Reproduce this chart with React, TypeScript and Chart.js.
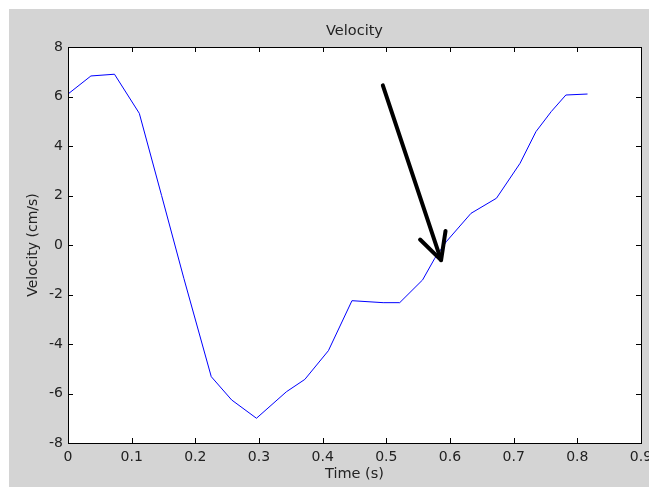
import React, { useEffect, useRef } from "react";
import { Chart, registerables } from "chart.js";

Chart.register(...registerables);

const timeS = [0, 0.036, 0.073, 0.112, 0.147, 0.182, 0.225, 0.257, 0.296, 0.343, 0.372, 0.409, 0.446, 0.495, 0.521, 0.557, 0.576, 0.594, 0.633, 0.673, 0.71, 0.735, 0.759, 0.782, 0.816];
const velocity = [6.1, 6.83, 6.9, 5.32, 2.0, -1.35, -5.32, -6.26, -7.0, -5.93, -5.43, -4.27, -2.25, -2.33, -2.33, -1.41, -0.54, 0.13, 1.28, 1.89, 3.3, 4.58, 5.39, 6.06, 6.1];

const xTicks = [0, 0.1, 0.2, 0.3, 0.4, 0.5, 0.6, 0.7, 0.8, 0.9];
const xTickLabels = ["0", "0.1", "0.2", "0.3", "0.4", "0.5", "0.6", "0.7", "0.8", "0.9"];
const yTicks = [-8, -6, -4, -2, 0, 2, 4, 6, 8];

const chartTitle = "Velocity";
const xTitle = "Time (s)";
const yTitle = "Velocity (cm/s)";

// hand-drawn arrow annotation (data coordinates)
const arrowShaftT = [0.4945, 0.586];
const arrowShaftV = [6.45, -0.61];
const arrowHeadT = [0.553, 0.586, 0.593];
const arrowHeadV = [0.22, -0.61, 0.57];

const FONT = "'DejaVu Sans', Verdana, sans-serif";
const GRAY = "#d4d4d4";
const TEXT = "#222222";

const framePlugin = {
  id: "frame",
  beforeDraw(chart: any) {
    const { ctx, chartArea: a, width, height } = chart;
    ctx.save();
    ctx.fillStyle = "#ffffff";
    ctx.fillRect(0, 0, width, height);
    ctx.fillStyle = GRAY;
    ctx.fillRect(9, 9, width - 9, height - 13);
    ctx.fillStyle = "#ffffff";
    ctx.fillRect(a.left, a.top, a.right - a.left, a.bottom - a.top);
    ctx.restore();
  },
  afterDatasetsDraw(chart: any) {
    const { ctx, chartArea: a, scales } = chart;
    const xs = scales.x;
    const ys = scales.y;
    ctx.save();
    ctx.strokeStyle = "#000";
    ctx.lineWidth = 1;
    ctx.strokeRect(Math.round(a.left) + 0.5, Math.round(a.top) + 0.5, Math.round(a.right - a.left), Math.round(a.bottom - a.top));
    const tl = 5;
    ctx.beginPath();
    xTicks.forEach((t) => {
      const px = Math.round(xs.getPixelForValue(t)) + 0.5;
      ctx.moveTo(px, a.bottom);
      ctx.lineTo(px, a.bottom - tl);
      ctx.moveTo(px, a.top);
      ctx.lineTo(px, a.top + tl);
    });
    yTicks.forEach((v) => {
      const py = Math.round(ys.getPixelForValue(v)) + 0.5;
      ctx.moveTo(a.left, py);
      ctx.lineTo(a.left + tl, py);
      ctx.moveTo(a.right, py);
      ctx.lineTo(a.right - tl, py);
    });
    ctx.stroke();

    ctx.strokeStyle = "#000";
    ctx.lineWidth = 4;
    ctx.lineCap = "round";
    ctx.lineJoin = "round";
    ctx.beginPath();
    ctx.moveTo(xs.getPixelForValue(arrowShaftT[0]), ys.getPixelForValue(arrowShaftV[0]));
    ctx.lineTo(xs.getPixelForValue(arrowShaftT[1]), ys.getPixelForValue(arrowShaftV[1]));
    ctx.stroke();
    ctx.beginPath();
    arrowHeadT.forEach((t, i) => {
      const px = xs.getPixelForValue(t);
      const py = ys.getPixelForValue(arrowHeadV[i]);
      if (i === 0) ctx.moveTo(px, py);
      else ctx.lineTo(px, py);
    });
    ctx.stroke();

    ctx.fillStyle = TEXT;
    ctx.font = `14.5px ${FONT}`;
    ctx.textAlign = "center";
    ctx.textBaseline = "alphabetic";
    ctx.fillText(chartTitle, (a.left + a.right) / 2, 35);
    ctx.fillText(xTitle, (a.left + a.right) / 2, 478);
    ctx.translate(37, (a.top + a.bottom) / 2);
    ctx.rotate(-Math.PI / 2);
    ctx.font = `14px ${FONT}`;
    ctx.fillText(yTitle, 0, 0);
    ctx.restore();
  },
};

export default function App() {
  const ref = useRef<HTMLCanvasElement | null>(null);
  useEffect(() => {
    if (!ref.current) return;
    const chart = new Chart(ref.current, {
      type: "line",
      data: {
        datasets: [
          {
            data: timeS.map((t, i) => ({ x: t, y: velocity[i] })),
            borderColor: "#0000ff",
            borderWidth: 1,
            pointRadius: 0,
            fill: false,
            tension: 0,
          },
        ],
      },
      options: {
        responsive: false,
        animation: false,
        layout: { padding: { left: 0, right: 8, top: 47, bottom: 0 } },
        plugins: { legend: { display: false }, tooltip: { enabled: false }, title: { display: false } },
        scales: {
          x: {
            type: "linear",
            min: 0,
            max: 0.9,
            grid: { display: false, drawTicks: false },
            border: { display: false },
            afterBuildTicks: (s: any) => {
              s.ticks = xTicks.map((v) => ({ value: v }));
            },
            afterFit: (s: any) => {
              s.height = 48;
              s.paddingLeft = 0;
              s.paddingRight = 0;
            },
            ticks: {
              autoSkip: false,
              maxRotation: 0,
              padding: 6,
              color: TEXT,
              font: { family: FONT, size: 14 },
              callback: (_v: any, i: number) => xTickLabels[i],
            },
          },
          y: {
            type: "linear",
            min: -8,
            max: 8,
            grid: { display: false, drawTicks: false },
            border: { display: false },
            afterBuildTicks: (s: any) => {
              s.ticks = yTicks.map((v) => ({ value: v }));
            },
            afterFit: (s: any) => {
              s.width = 68;
              s.paddingTop = 0;
              s.paddingBottom = 0;
            },
            ticks: {
              autoSkip: false,
              padding: 5,
              color: TEXT,
              font: { family: FONT, size: 14 },
              callback: (v: any) => String(v),
            },
          },
        },
      },
      plugins: [framePlugin],
    });
    return () => chart.destroy();
  }, []);
  return (
    <div style={{ position: "absolute", left: 0, top: 0, width: 649, height: 491 }}>
      <canvas ref={ref} width={649} height={491} style={{ display: "block" }} />
    </div>
  );
}
